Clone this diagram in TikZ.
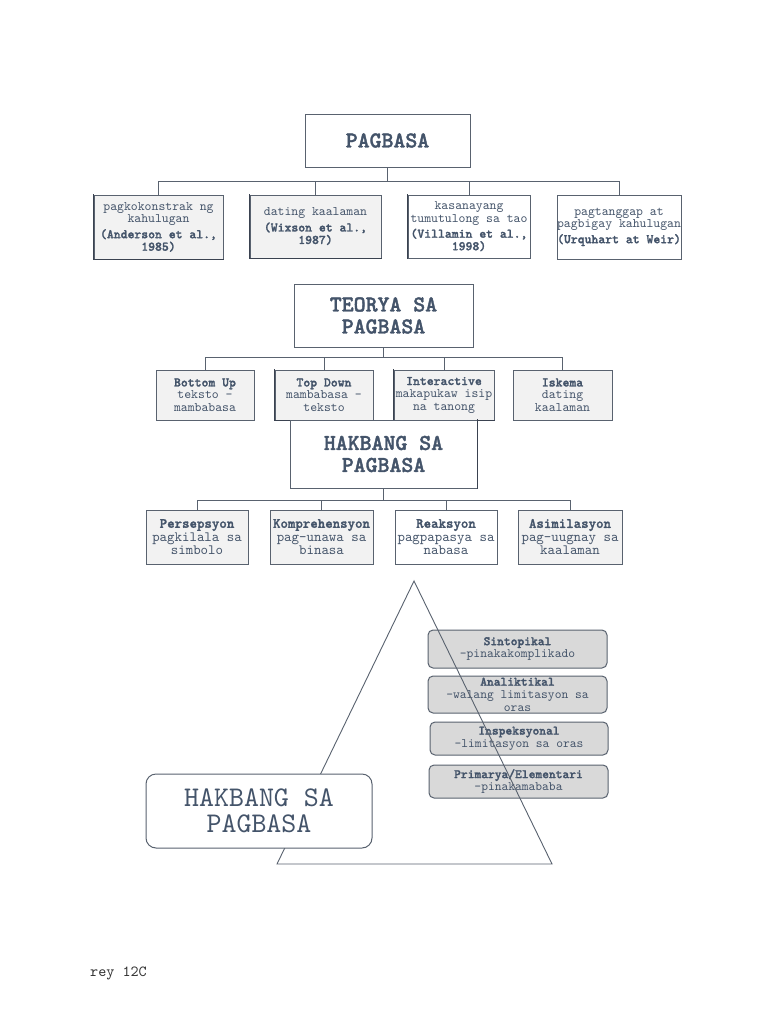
\documentclass[tikz,border=0pt]{standalone}
\usepackage{fontspec}
\setmainfont{lmmono10-regular.otf}[BoldFont=lmmonolt10-bold.otf, BoldFeatures={FakeBold=1.6}]
\definecolor{txt}{HTML}{44546A}
\definecolor{edge}{HTML}{59626F}
\definecolor{darkedge}{HTML}{3A4250}
\definecolor{boxgray}{HTML}{F2F2F2}
\definecolor{pillgray}{HTML}{D9D9D9}
\tikzset{
  box/.style={draw=edge, line width=0.9pt, inner sep=0pt, align=center, text=txt},
  titlebox/.style={box, fill=white, font=\fontsize{22.7}{22}\selectfont\bfseries},
  smallbox/.style={box, font=\fontsize{13.1}{12.5}\selectfont},
  midbox/.style={box, font=\fontsize{14.2}{13.5}\selectfont},
  pill/.style={draw=edge, line width=1pt, rounded corners=5pt, fill=pillgray, inner sep=0pt, align=center, text=txt, font=\fontsize{12.9}{12.8}\selectfont},
  bigpill/.style={draw=edge, line width=1pt, rounded corners=10pt, fill=white, inner sep=0pt, align=center, text=txt, font=\fontsize{28.5}{26}\selectfont},
  conn/.style={draw=edge, line width=0.8pt},
  shade/.style={draw=darkedge, line width=1.6pt, line cap=rect},
}
\begin{document}
\begin{tikzpicture}[x=1pt,y=-1pt]
\useasboundingbox[fill=white] (0,0) rectangle (768,1024);

% ---------- Section 1 ----------
\node[titlebox, minimum width=165pt, minimum height=53pt] (p0) at (387.5,140.5) {PAGBASA};
\node[smallbox, fill=boxgray, minimum width=129pt, minimum height=64pt] (c1) at (158.5,227)
  {pagkokonstrak ng\\kahulugan\\[3pt]\textbf{(Anderson et al.,}\\\textbf{1985)}};
\node[smallbox, fill=boxgray, minimum width=131pt, minimum height=63pt] (c2) at (315.5,226.5)
  {dating kaalaman\\[3pt]\textbf{(Wixson et al.,}\\\textbf{1987)}};
\node[smallbox, fill=white, minimum width=122pt, minimum height=63pt] (c3) at (469,226.5)
  {kasanayang\\tumutulong sa tao\\[3pt]\textbf{(Villamin et al.,}\\\textbf{1998)}};
\node[smallbox, fill=white, minimum width=124pt, minimum height=64pt] (c4) at (619,227)
  {pagtanggap at\\pagbigay kahulugan\\[3pt]\textbf{(Urquhart at Weir)}};
\draw[shade] (c1.north west) |- (c1.south east);
\draw[shade] (c2.north west) |- (c2.south east);
\draw[shade] (c3.north west) -- (c3.south west);
\coordinate (j1) at (387.5,181);
\draw[conn] (p0.south) -- (j1);
\draw[conn] (c1.north) |- (j1);
\draw[conn] (c2.north) |- (j1);
\draw[conn] (c3.north) |- (j1);
\draw[conn] (c4.north) |- (j1);

% ---------- Section 2 ----------
\node[titlebox, minimum width=179pt, minimum height=63pt] (t0) at (383.5,315.5) {TEORYA SA\\PAGBASA};
\node[smallbox, fill=boxgray, minimum width=98pt, minimum height=50pt] (b1) at (205,395)
  {\textbf{Bottom Up}\\teksto -\\mambabasa};
\node[smallbox, fill=boxgray, minimum width=98pt, minimum height=50pt] (b2) at (324,395)
  {\textbf{Top Down}\\mambabasa -\\teksto};
\node[smallbox, fill=boxgray, minimum width=100pt, minimum height=50pt] (b3) at (444,395)
  {\textbf{Interactive}\\makapukaw isip\\na tanong};
\node[smallbox, fill=boxgray, minimum width=99pt, minimum height=50pt] (b4) at (562.5,395)
  {\textbf{Iskema}\\dating\\kaalaman};
\draw[shade] (b2.north west) |- (b2.south east);
\draw[shade] (b3.north west) |- (b3.south east);
\coordinate (j2) at (383.5,357);
\draw[conn] (t0.south) -- (j2);
\draw[conn] (b1.north) |- (j2);
\draw[conn] (b2.north) |- (j2);
\draw[conn] (b3.north) |- (j2);
\draw[conn] (b4.north) |- (j2);

% ---------- Section 3 ----------
\node[titlebox, minimum width=187pt, minimum height=68pt] (h0) at (383.5,454) {HAKBANG SA\\PAGBASA};
\draw[shade] (h0.north east) -- (h0.south east);
\node[midbox, fill=boxgray, minimum width=102pt, minimum height=54pt] (d1) at (197,537)
  {\textbf{Persepsyon}\\pagkilala sa\\simbolo};
\node[midbox, fill=boxgray, minimum width=103pt, minimum height=54pt] (d2) at (321.5,537)
  {\textbf{Komprehensyon}\\pag-unawa sa\\binasa};
\node[midbox, fill=white, minimum width=102pt, minimum height=54pt] (d3) at (446,537)
  {\textbf{Reaksyon}\\pagpapasya sa\\nabasa};
\node[midbox, fill=boxgray, minimum width=104pt, minimum height=54pt] (d4) at (570,537)
  {\textbf{Asimilasyon}\\pag-uugnay sa\\kaalaman};
\coordinate (j3) at (383.5,500);
\draw[conn] (h0.south) -- (j3);
\draw[conn] (d1.north) |- (j3);
\draw[conn] (d2.north) |- (j3);
\draw[conn] (d3.north) |- (j3);
\draw[conn] (d4.north) |- (j3);

% ---------- Pyramid ----------
\node[pill, minimum width=179pt, minimum height=38pt] (r1) at (517.5,649)
  {\textbf{Sintopikal}\\-pinakakomplikado};
\node[pill, minimum width=179pt, minimum height=37pt] (r2) at (517.5,694.5)
  {\textbf{Analiktikal}\\-walang limitasyon sa\\oras};
\node[pill, minimum width=178pt, minimum height=33pt] (r3) at (519,738.5)
  {\textbf{Inspeksyonal}\\-limitasyon sa oras};
\node[pill, minimum width=179pt, minimum height=33pt] (r4) at (518.5,781.5)
  {\textbf{Primarya/Elementari}\\-pinakamababa};
\coordinate (apex) at (414,581);
\coordinate (bl) at (277,864);
\coordinate (br) at (552,864);
\draw[draw=edge, line width=0.9pt, line join=miter] (apex) -- (br) -- (bl) -- cycle;
\node[bigpill, minimum width=226pt, minimum height=74pt] (big) at (259,811) {HAKBANG SA\\PAGBASA};

\node[anchor=west, inner sep=0pt, text=black!80, font=\fontsize{15.4}{14}\selectfont] (rey) at (90,973) {rey 12C};
\end{tikzpicture}
\end{document}
